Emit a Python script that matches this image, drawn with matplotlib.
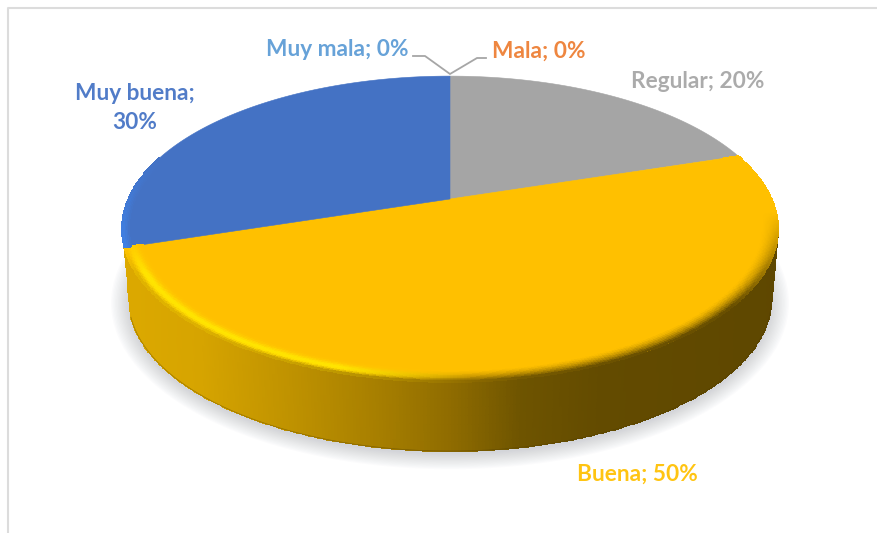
import numpy as np
import matplotlib
matplotlib.use('Agg')
import matplotlib.pyplot as plt
from matplotlib.colors import to_rgb
from matplotlib.patches import Ellipse

plt.rcParams['font.family'] = ['Lato', 'DejaVu Sans']

categorias = ['Mala', 'Regular', 'Buena', 'Muy buena', 'Muy mala']
valores = [0, 20, 50, 30, 0]
colores = ['#ED7D31', '#A5A5A5', '#FFC000', '#4472C4', '#5B9BD5']

# pie geometry, in pixels (the axes span the whole figure)
CX, CY = 450, 199      # apex of the slices
K, A, B = 0.196, 321.6, 147.0   # perspective of the tilted disc
MID_Y = 229
DEPTH = 70

wall_x = [120, 200, 290, 380, 450, 520, 600, 790]
wall_c = ['#DCA900', '#D6A400', '#BF9200', '#A67E00', '#8F6C00', '#6E5400', '#634B00', '#5E4700']


def project(theta, r=1.0):
    # theta in degrees, clockwise from 12 o'clock
    t = np.radians(theta)
    x, y = r * np.sin(t), r * np.cos(t)
    w = 1 + K * y
    return CX + A * x / w, CY - B * y / w


def wall_rgb(x):
    rgb = np.array([to_rgb(c) for c in wall_c])
    return np.stack([np.interp(x, wall_x, rgb[:, i]) for i in range(3)], axis=-1)


fig = plt.figure(figsize=(8.77, 5.33), dpi=100)
ax = fig.add_axes([0, 0, 1, 1])
ax.set_xlim(0, 877)
ax.set_ylim(533, 0)
ax.axis('off')

# frame of the chart area
ax.plot([8, 8, 877], [533, 8, 8], color='#DCDCDC', lw=1.5, zorder=1)

# soft shadow
for grow in np.linspace(18, 0, 14):
    ax.add_patch(Ellipse((450, 303), 2 * (321 + grow), 2 * (151 + grow * 0.85),
                         fc='#8A8F99', ec='none', alpha=0.028, zorder=2))

# slice angles from the values
angulos = np.cumsum([0] + valores) * 3.6
idx_buena = categorias.index('Buena')
a0, a1 = angulos[idx_buena], angulos[idx_buena + 1]

# side wall of the yellow slice
th = np.linspace(a0, a1, 361)
ex, ey = project(th)
bx = CX + (ex - CX) * 0.98
by = MID_Y + (ey - MID_Y) * 0.995 + DEPTH
s = np.linspace(0, 1, 9)[:, None]
X = ex + (bx - ex) * s
Y = ey + (by - ey) * s
xm = 0.5 * (X[:-1, 1:] + X[:-1, :-1])
ax.pcolormesh(X, Y, wall_rgb(xm), shading='flat', edgecolors='face', linewidth=0.3, zorder=3)
ax.plot(bx[60:], by[60:], color='#4F3C00', lw=0.5, alpha=0.45, zorder=3)

# top faces
for i, v in enumerate(valores):
    if v == 0:
        continue
    t = np.linspace(angulos[i], angulos[i + 1], 200)
    px, py = project(t)
    ax.fill(np.r_[CX, px], np.r_[CY, py], color=colores[i], lw=0.4, zorder=4)

# bevel on the yellow rim, fades out towards the back right and at the left tip
rr = np.linspace(0.945, 1.0, 17)
RX = np.array([project(th, r)[0] for r in rr])
RY = np.array([project(th, r)[1] for r in rr])
xc = 0.5 * (RX[:-1, 1:] + RX[:-1, :-1])
tc = 0.5 * (rr[1:] + rr[:-1])
tc = ((tc - rr[0]) / (rr[-1] - rr[0]))[:, None, None]
thc = 0.5 * (th[1:] + th[:-1])
base = np.array(to_rgb(colores[idx_buena]))
brillo = np.array(to_rgb('#FFE400'))
h = np.clip((470 - xc) / 130, 0, 1)[..., None]
resto = np.clip((thc - 95) / 35, 0, 1)[None, :, None]
punta = np.clip((a1 - thc) / 10, 0, 1)[None, :, None]
oscuro = wall_rgb(xc) - base
rgb = base + oscuro * np.clip((tc - 0.72) / 0.28, 0, 1) ** 1.5 * h * punta \
    + (brillo - base) * np.exp(-((tc - 0.62) / 0.28) ** 2) * h * (0.35 + 0.65 * punta)
rgb = rgb + oscuro * np.clip((tc - 0.15) / 0.85, 0, 1) ** 1.6 * (1 - h) * resto
ax.pcolormesh(RX, RY, np.clip(rgb, 0, 1), shading='flat', edgecolors='face', linewidth=0.2, zorder=5)

# lighter rim on the left of the blue slice
idx_azul = categorias.index('Muy buena')
thb = np.linspace(angulos[idx_azul], angulos[idx_azul] + 35, 80)
rb = np.linspace(0.98, 1.0, 5)
BX = np.array([project(thb, r)[0] for r in rb])
BY = np.array([project(thb, r)[1] for r in rb])
fade = np.linspace(1, 0, 79)[None, :, None]
ramp = np.linspace(0.2, 1, 4)[:, None, None]
azul = np.array(to_rgb('#4472C4'))
rgb_b = azul + (np.array(to_rgb('#3F80E4')) - azul) * fade * ramp
ax.pcolormesh(BX, BY, rgb_b, shading='flat', edgecolors='face', linewidth=0.2, zorder=5)

# leader lines of the 0% labels
ax.plot([413, 425, 450, 477, 486], [56, 56, 74, 58, 58], color='#A6A6A6', lw=1.3, zorder=6)

# labels
etiquetas = [f'{c}; {v}%' for c, v in zip(categorias, valores)]
etiquetas[categorias.index('Muy buena')] = 'Muy buena;\n30%'
posiciones = [(538.5, 51), (698, 81), (637.5, 474), (134.5, 108), (337.5, 50)]
for txt, (x, y), col in zip(etiquetas, posiciones, colores):
    ax.text(x, y, txt, color=col, fontsize=16.3, fontweight='bold', ha='center', va='center',
            linespacing=1.5, alpha=0.93, zorder=7)

fig.savefig('out.png', dpi=100)
